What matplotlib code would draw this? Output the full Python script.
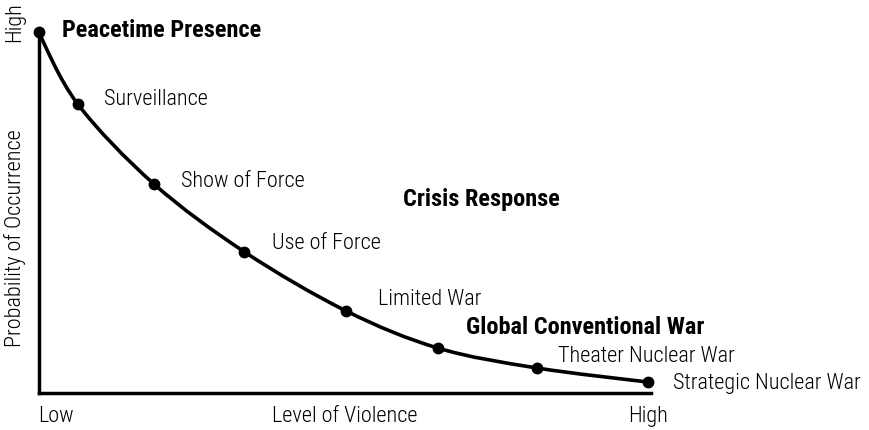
import numpy as np
import matplotlib.pyplot as plt
from matplotlib.path import Path
from matplotlib.patches import PathPatch

# Data: stages along the spectrum of conflict
stages = ["Peacetime Presence", "Surveillance", "Show of Force", "Use of Force",
          "Limited War", "Global Conventional War", "Theater Nuclear War",
          "Strategic Nuclear War"]
violence = [0.0, 0.064, 0.189, 0.338, 0.505, 0.656, 0.818, 1.0]
probability = [1.0, 0.801, 0.579, 0.390, 0.226, 0.123, 0.068, 0.029]

# point labels (index -> text, offset in points, bold)
point_labels = [
    (0, "Peacetime Presence", (17, 2), True),
    (1, "Surveillance", (19, 4), False),
    (2, "Show of Force", (19.5, 2), False),
    (3, "Use of Force", (20, 7), False),
    (4, "Limited War", (23, 9), False),
    (6, "Theater Nuclear War", (15, 9), False),
    (7, "Strategic Nuclear War", (18, 0), False),
]
region_labels = [("Crisis Response", 0.598, 0.537), ("Global Conventional War", 0.701, 0.182)]
x_ticks = [0, 0.503, 1.0]
x_ticklabels = ["Low", "Level of Violence", "High"]

plt.rcParams['font.family'] = ["Roboto Condensed", "DejaVu Sans"]
FS = 16
FSB = 17.5

fig = plt.figure(figsize=(8.69, 4.31), dpi=100)
ax = fig.add_axes([38.5 / 869, 37.5 / 431, 612.5 / 869, 360.5 / 431])
ax.set_xlim(0, 1.005)
ax.set_ylim(0, 1.0)

# smooth curve through the points (Catmull-Rom -> cubic Bezier)
pts = np.column_stack((violence, probability))
verts = [pts[0]]
codes = [Path.MOVETO]
for i in range(len(pts) - 1):
    p0 = pts[i - 1] if i > 0 else pts[i]
    p1, p2 = pts[i], pts[i + 1]
    p3 = pts[i + 2] if i + 2 < len(pts) else pts[i + 1]
    c1 = p1 + (p2 - p0) / 6
    c2 = p2 - (p3 - p1) / 6
    verts += [c1, c2, p2]
    codes += [Path.CURVE4] * 3
ax.add_patch(PathPatch(Path(verts, codes), facecolor="none", edgecolor="black",
                       lw=2.6, clip_on=False, capstyle="round"))
ax.plot(violence, probability, "o", color="black", ms=7.5, clip_on=False, zorder=3)

for i, txt, off, bold in point_labels:
    ax.annotate(txt, (violence[i], probability[i]), xytext=off, textcoords="offset points",
                ha="left", va="center", fontsize=FSB if bold else FS,
                fontweight="bold" if bold else "light")
for txt, x, y in region_labels:
    ax.text(x, y, txt, ha="left", va="center", fontsize=FSB, fontweight="bold")

for s in ["top", "right"]:
    ax.spines[s].set_visible(False)
ax.spines["left"].set_linewidth(2.5)
ax.spines["bottom"].set_linewidth(2.5)
ax.tick_params(length=0)
ax.set_xticks(x_ticks)
ax.set_xticklabels(x_ticklabels, fontsize=FS, fontweight="light")
ax.get_xticklabels()[0].set_ha("left")
ax.tick_params(axis="x", pad=9)
ax.set_yticks([])
fig.text(15 / 869, 1 - 2 / 431, "High", rotation=90, ha="center", va="top",
         fontsize=FS, fontweight="light")
fig.text(15 / 869, 1 - 238 / 431, "Probability of Occurrence", rotation=90,
         ha="center", va="center", fontsize=FS, fontweight="light")

fig.savefig("out.png", dpi=100)
